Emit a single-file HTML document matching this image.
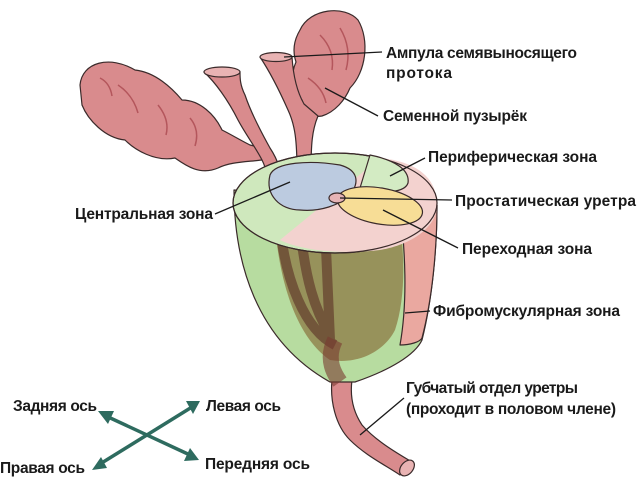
<!DOCTYPE html>
<html><head><meta charset="utf-8"><style>
html,body{margin:0;padding:0;background:#fff;}
svg{display:block}
text{font-family:"Liberation Sans",sans-serif;font-weight:bold;font-size:15.5px;fill:#1a1a1a}
</style></head><body>
<svg width="640" height="481" viewBox="0 0 640 481" xmlns="http://www.w3.org/2000/svg">
<g stroke="#3a2a2a" stroke-width="1.2" stroke-linejoin="round">
<!-- left seminal vesicle -->
<path d="M80,85 C82,62 110,55 135,70 C155,72 172,88 182,100 C200,100 215,115 222,130 C232,135 240,140 250,145 L262,148 L262,160 C245,162 230,162 218,168 C200,176 185,165 175,158 C155,162 135,150 125,140 C105,138 88,120 82,105 Z" fill="#d98b8d"/>
<path d="M118,85 q15,10 20,28 M158,105 q12,15 8,30 M190,118 q10,12 5,28 M100,78 q10,5 12,18" fill="none" stroke="#b4565c" stroke-width="1.5"/>
<!-- left ampulla funnel + duct -->
<path d="M204,72 C215,82 228,100 238,120 C246,135 256,148 262,160 C266,168 268,178 268,188 L282,186 C282,172 278,160 270,148 C260,130 250,110 245,95 C240,85 240,78 240,72 Z" fill="#d98b8d"/>
<ellipse cx="222" cy="72" rx="18" ry="5" fill="#e9b3b3"/>
<!-- right seminal vesicle -->
<path d="M300,30 C310,8 345,5 358,20 C370,40 366,72 350,88 C345,100 335,112 322,116 C312,118 305,112 302,100 C292,92 290,75 296,62 C292,50 294,40 300,30 Z" fill="#d98b8d"/>
<path d="M320,35 q15,15 12,35 M340,28 q12,20 6,42 M308,78 q15,10 18,25" fill="none" stroke="#b4565c" stroke-width="1.5"/>
<!-- right ampulla funnel + duct -->
<path d="M260,57 C270,72 280,92 288,110 C295,125 297,140 297,172 L311,172 C311,145 312,130 318,116 L304,104 C296,90 293,72 292,57 Z" fill="#d98b8d"/>
<ellipse cx="276" cy="57" rx="16" ry="4.5" fill="#e9b3b3"/>
<!-- spongy urethra -->
<path d="M332,380 C330,400 335,425 350,440 C365,455 385,465 400,475 L412,462 C395,452 375,440 362,425 C352,410 350,395 352,380 Z" fill="#d98b8d"/>
<ellipse cx="407" cy="468" rx="6" ry="9" transform="rotate(40 407 468)" fill="#e9b3b3"/>
<!-- prostate body -->
<path d="M234,190 C234,260 255,340 330,382 L355,382 C390,370 415,355 422,340 C432,300 437,250 437,205 Z" fill="#b7dca0"/>
<path d="M400,205 C405,250 408,300 400,345 C410,345 420,342 422,338 C432,300 437,250 437,205 Z" fill="#eaa8a0"/>
<path d="M275,225 C280,290 300,340 330,360 C360,365 385,350 395,330 C405,300 405,260 400,225 Z" fill="#8c7a44" opacity="0.75" stroke="none"/>
<path d="M280,225 C285,280 305,330 335,345 M300,225 C305,280 315,310 330,335 M325,225 L330,340" fill="none" stroke="#5a2e25" stroke-width="10" opacity="0.6"/>
<path d="M335,340 C325,360 335,375 340,382" fill="none" stroke="#7a3a30" stroke-width="16" opacity="0.6"/>
<!-- top surface -->
<ellipse cx="335" cy="203" rx="102" ry="50" fill="#cfe8bd"/>
<path d="M380,158 C420,162 437,180 437,205 C437,228 410,245 380,250 C340,255 300,250 280,240 Z" fill="#f3d2cf" stroke="none"/>
<ellipse cx="335" cy="203" rx="102" ry="50" fill="none"/>
<path d="M370,155 C395,160 410,170 408,183 C405,192 385,195 360,188 Z" fill="#d3ebc3"/>
<path d="M270,175 C275,162 310,160 340,165 C358,170 360,182 350,195 C340,205 320,212 300,210 C280,210 265,195 270,175 Z" fill="#bccbe0"/>
<ellipse cx="380" cy="206" rx="43" ry="18" transform="rotate(10 380 206)" fill="#f7dd96"/>
<ellipse cx="337" cy="198" rx="8" ry="5" fill="#e6b3b5"/>
</g>
<g stroke="#1a1a1a" stroke-width="1.3" fill="none">
<line x1="284" y1="57" x2="382" y2="52"/>
<line x1="325" y1="88" x2="378" y2="116"/>
<line x1="390" y1="176" x2="425" y2="158"/>
<line x1="340" y1="198" x2="452" y2="200"/>
<line x1="383" y1="210" x2="458" y2="248"/>
<line x1="405" y1="313" x2="430" y2="311"/>
<line x1="290" y1="182" x2="215" y2="214"/>
<line x1="360" y1="435" x2="404" y2="398"/>
</g>
<g stroke="#2e6b5f" stroke-width="3.5" fill="#2e6b5f">
<line x1="106" y1="416" x2="190" y2="455"/>
<line x1="100" y1="464" x2="192" y2="407"/>
<polygon points="98,411 114,411 108,424" stroke="none"/>
<polygon points="199,460 184,461 190,448" stroke="none"/>
<polygon points="200,401 186,401 193,414" stroke="none"/>
<polygon points="92,470 101,457 107,468" stroke="none"/>
</g>
<g>
<text x="386" y="58" textLength="191">Ампула семявыносящего</text>
<text x="386" y="78" textLength="66">протока</text>
<text x="383" y="121" textLength="144">Семенной пузырёк</text>
<text x="428" y="162" textLength="169">Периферическая зона</text>
<text x="455" y="206" textLength="181">Простатическая уретра</text>
<text x="462" y="254" textLength="130">Переходная зона</text>
<text x="433" y="316" textLength="187">Фибромускулярная зона</text>
<text x="75" y="219" textLength="138">Центральная зона</text>
<text x="406" y="393" textLength="172">Губчатый отдел уретры</text>
<text x="406" y="414" textLength="210">(проходит в половом члене)</text>
<text x="13" y="411" textLength="84">Задняя ось</text>
<text x="206" y="411" textLength="75">Левая ось</text>
<text x="0" y="473" textLength="85">Правая ось</text>
<text x="205" y="469" textLength="105">Передняя ось</text>
</g>
</svg>
</body></html>
